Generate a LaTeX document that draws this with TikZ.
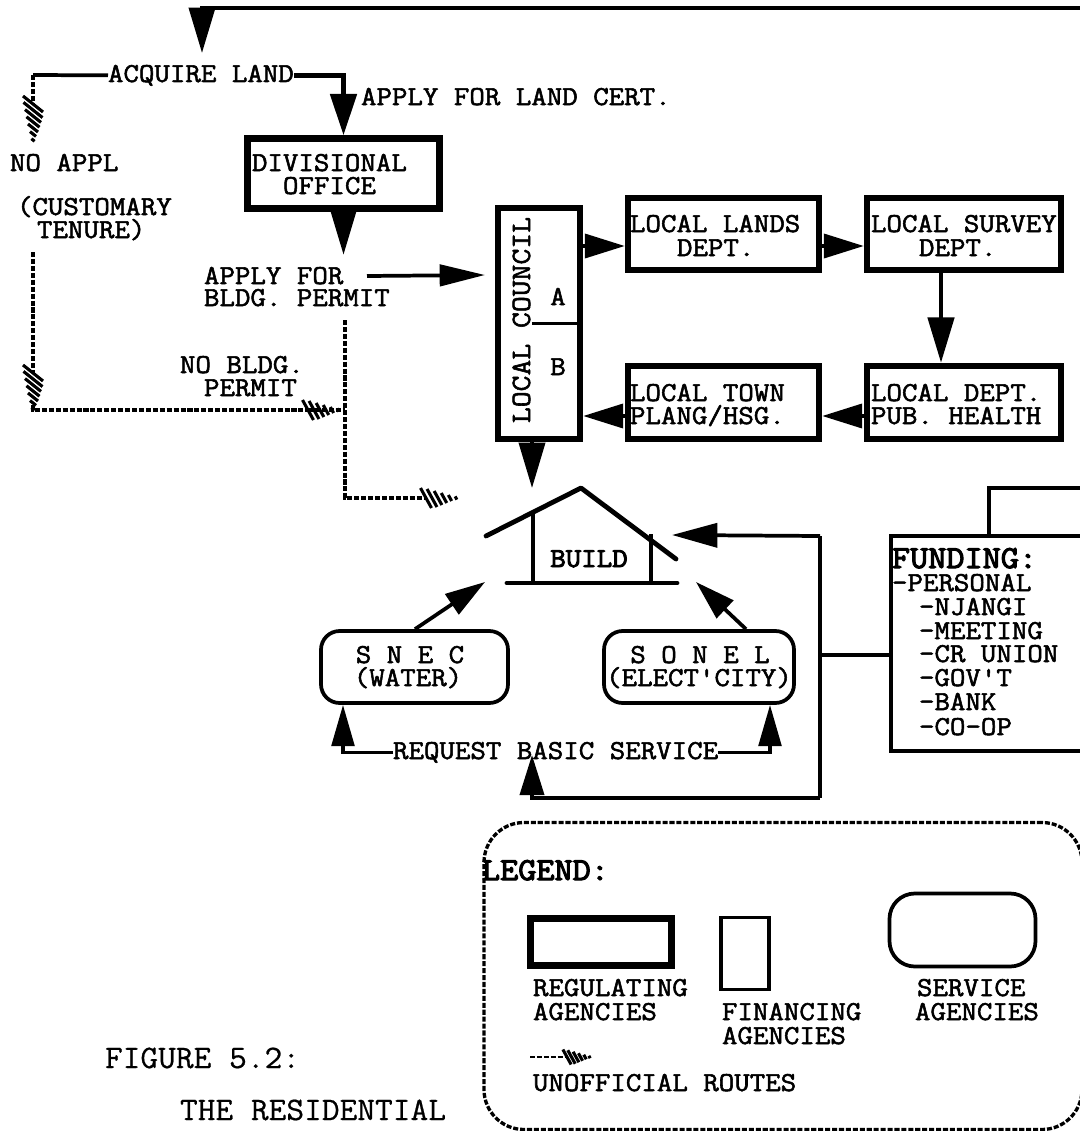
\documentclass[tikz,border=0pt]{standalone}
\usepackage{fontspec}
\usetikzlibrary{arrows.meta}
\newfontfamily\ftxt{Latin Modern Mono}[FakeBold=2,FakeStretch=1.1]
\newfontfamily\fbig{Latin Modern Mono}[FakeBold=3.5,FakeStretch=1.1]
\newfontfamily\fcap{Latin Modern Mono}[FakeBold=.6,FakeStretch=1.05]
\tikzset{
  x=0.75pt,y=-0.75pt,
  txt/.style={anchor=base west,inner sep=0pt,outer sep=0pt,font=\ftxt\fontsize{20.5}{22}\selectfont},
  txtc/.style={txt,anchor=base},
  bigtxt/.style={txt,font=\fbig\fontsize{24}{25}\selectfont},
  captxt/.style={txt,font=\fcap\fontsize{24.6}{26}\selectfont},
  sz/.style 2 args={minimum width=#1*0.75pt,minimum height=#2*0.75pt,inner sep=0pt},
  regbox/.style={draw,line width=4.8pt},
  finbox/.style={draw,line width=2.8pt},
  svcbox/.style={draw,line width=2.8pt,rounded corners=14pt},
  conn/.style={line width=2.8pt},
  arrow/.style 2 args={-{Triangle[length=#1,width=#2]}},
  unoff/.style={line width=2.5pt,dash pattern=on 3.8pt off 1.4pt},
  hatchdown/.pic={\foreach \i/\h in {0/10,1/9.5,2/8,3/6.5,4/5,5/3,6/1.6}
     \draw[line width=2.3pt] ({-\h},{\i*6-\h*.8}) -- ({\h},{\i*6+\h*.8});},
  hatchright/.pic={\foreach \i/\h in {0/10,1/9,2/7,3/5,4/3,5/1.6}
     \draw[line width=2.3pt] ({\i*6-\h*.55},{-\h}) -- ({\i*6+\h*.55},{\h});},
}
\begin{document}
\begin{tikzpicture}
\clip (0,0) rectangle (1080,1131);
\fill[white] (0,0) rectangle (1080,1131);
% coordinates of bends
\coordinate (topR) at (1095,8);
\coordinate (topL) at (202,8);
\coordinate (acqTip) at (202,53);
\coordinate (acqL) at (33,75);
\coordinate (acqR) at (344,75);
\coordinate (h1) at (33,104);
\coordinate (d2top) at (33,252);
\coordinate (d2bot) at (33,410);
\coordinate (h2) at (33,373);
\coordinate (d3top) at (345,320);
\coordinate (d3bot) at (345,498);
\coordinate (h3) at (308,410);
\coordinate (h3e) at (345,410);
\coordinate (h4) at (426,498);
\coordinate (permTip) at (485,275);
\coordinate (permS) at (367,276);
\coordinate (buildTip) at (532,488);
\coordinate (snecTip) at (485,582);
\coordinate (sonelTip) at (696,582);
\coordinate (houseTip) at (672,535);
\coordinate (busT) at (820,536);
\coordinate (busM) at (820,655);
\coordinate (busB) at (820,798);
\coordinate (reqTip) at (532,755);
\coordinate (reqB) at (532,798);
\coordinate (fundUp) at (989,488);
\coordinate (fundR) at (1095,488);
\coordinate (reqL) at (343,751);
\coordinate (reqR) at (770,751);
\coordinate (arY) at (0,246);
\coordinate (arZ) at (0,416);
\coordinate (xSH) at (941,0);
\coordinate (xSn) at (415,0);
\coordinate (xSo) at (746,0);
\coordinate (xDa) at (532,0);
\coordinate (xDb) at (580,0);
% regulating boxes
\node[regbox,sz={192}{70}] (div) at (343.5,173.5) {};
\node[regbox,sz={82}{231}] (council) at (539,323.5) {};
\node[regbox,sz={191}{72}] (lands) at (723.5,234) {};
\node[regbox,sz={194}{72}] (survey) at (964,234) {};
\node[regbox,sz={191}{73}] (town) at (723.5,402.5) {};
\node[regbox,sz={194}{73}] (health) at (964,402.5) {};
% service boxes
\node[svcbox,sz={187}{72}] (snec) at (414.5,667) {};
\node[svcbox,sz={190}{72}] (sonel) at (699,667) {};
% funding box
\node[finbox,sz={209}{215}] (fund) at (995.5,643.5) {};
% legend
\node[draw,unoff,rounded corners=30pt,sz={598}{307}] (legend) at (783,976) {};
\node[regbox,sz={141}{47}] (lgreg) at (601,942) {};
\node[finbox,sz={48}{72}] (lgfin) at (745,953.5) {};
\node[svcbox,rounded corners=19pt,sz={146}{73}] (lgsvc) at (962.5,930) {};
% texts
\node[txt] (tacq) at (108,82) {ACQUIRE LAND};
\node[txt] (tcert) at (361,105) {APPLY FOR LAND CERT.};
\node[txt] (tdiv1) at (252,171) {DIVISIONAL};
\node[txt] (tdiv2) at (283,194) {OFFICE};
\node[txt] (tnoap) at (10,171) {NO APPL};
\node[txt] (tcus1) at (17,215) {(CUSTOMARY};
\node[txt] (tcus2) at (37,238) {TENURE)};
\node[txt] (tap1) at (204,284) {APPLY FOR};
\node[txt] (tap2) at (204,306) {BLDG. PERMIT};
\node[txt] (tnb1) at (180,373) {NO BLDG.};
\node[txt] (tnb2) at (204,396) {PERMIT};
\node[txtc,rotate=90,font=\ftxt\fontsize{21}{22}\selectfont] (tcouncil) at (530,320) {LOCAL COUNCIL};
\node[txtc] (ta) at (558,305) {A};
\node[txtc] (tb) at (558,375) {B};
\node[txt] (tl1) at (630,232) {LOCAL LANDS};
\node[txt] (tl2) at (677,256) {DEPT.};
\node[txt] (ts1) at (871,232) {LOCAL SURVEY};
\node[txt] (ts2) at (919,256) {DEPT.};
\node[txt] (tt1) at (630,401) {LOCAL TOWN};
\node[txt] (tt2) at (630,424) {PLANG/HSG.};
\node[txt] (th1) at (871,401) {LOCAL DEPT.};
\node[txt] (th2) at (871,424) {PUB. HEALTH};
\node[txtc,font=\fbig\fontsize{20.5}{22}\selectfont] (tbuild) at (589,567) {BUILD};
\node[txtc] (tsn1) at (410,663) {S N E C};
\node[txtc] (tsn2) at (408,686) {(WATER)};
\node[txtc] (tso1) at (700,663) {S O N E L};
\node[txtc] (tso2) at (699,686) {(ELECT'CITY)};
\node[txt] (treq) at (393,759) {REQUEST BASIC SERVICE};
\node[bigtxt] (tf0) at (892,568) {FUNDING:};
\node[txt] (tf1) at (892,591) {-PERSONAL};
\node[txt] (tf2) at (919,615) {-NJANGI};
\node[txt] (tf3) at (919,639) {-MEETING};
\node[txt] (tf4) at (919,662) {-CR UNION};
\node[txt] (tf5) at (919,686) {-GOV'T};
\node[txt] (tf6) at (919,710) {-BANK};
\node[txt] (tf7) at (919,735) {-CO-OP};
\node[bigtxt] (tleg) at (482,880) {LEGEND:};
\node[txt] (tr1) at (533,996) {REGULATING};
\node[txt] (tr2) at (533,1020) {AGENCIES};
\node[txt] (tfa1) at (722,1020) {FINANCING};
\node[txt] (tfa2) at (722,1044) {AGENCIES};
\node[txt] (tsa1) at (917,996) {SERVICE};
\node[txt] (tsa2) at (915,1020) {AGENCIES};
\node[txt] (tun) at (533,1091) {UNOFFICIAL ROUTES};
\node[captxt] (tfig) at (105,1068) {FIGURE 5.2:};
\node[captxt] (tres) at (180,1120) {THE RESIDENTIAL};
% solid connectors
\draw[conn,arrow={34pt}{19.5pt}] (topR) -- (topL) -- (acqTip);
\draw[conn] (tacq.west) -- (acqL);
\draw[line width=3.8pt,arrow={31pt}{19.5pt}] (tacq.east) -| (div.north);
\draw[conn,arrow={34pt}{19.5pt}] (div.south) -- ++(0,43);
\draw[conn,arrow={34pt}{16pt}] (permS) -- (permTip);
\draw[conn,arrow={30pt}{18pt}] (council.east |- arY) -- (lands.west |- arY);
\draw[conn,arrow={30pt}{18pt}] (lands.east |- arY) -- (survey.west |- arY);
\draw[line width=3.4pt,arrow={34pt}{19.5pt}] (survey.south -| xSH) -- (health.north -| xSH);
\draw[conn,arrow={30pt}{18pt}] (health.west |- arZ) -- (town.east |- arZ);
\draw[conn,arrow={30pt}{18pt}] (town.west |- arZ) -- (council.east |- arZ);
\draw[conn,arrow={34pt}{19.5pt}] (council.south -| buildTip) -- (buildTip);
\draw[conn,arrow={30pt}{18pt}] (snec.north -| xSn) -- (snecTip);
\draw[conn,arrow={30pt}{18pt}] (sonel.north -| xSo) -- (sonelTip);
\draw[conn,arrow={31pt}{17pt}] (treq.west) -| (snec.south -| reqL);
\draw[conn,arrow={31pt}{17pt}] (treq.east) -| (sonel.south -| reqR);
\draw[conn,arrow={34pt}{18pt}] (busT) -- (houseTip);
\draw[conn] (busT) -- (busB);
\draw[conn,arrow={30pt}{18pt}] (busB) -- (reqB) -- (reqTip);
\draw[conn] (busM) -- (fund.west |- busM);
\draw[conn] (fund.north -| fundUp) -- (fundUp) -- (fundR);
\draw[line width=2.2pt] (council.center -| xDa) -- (council.center -| xDb);
% house
\coordinate (eaveL) at (486,536);
\coordinate (apex) at (581,488);
\coordinate (eaveR) at (676,559);
\coordinate (floorL) at (507,583);
\coordinate (floorR) at (677,583);
\coordinate (wallL) at (533,512);
\coordinate (wallR) at (651,534);
\draw[line width=3.6pt,line cap=round,line join=round] (eaveL) -- (apex) -- (eaveR);
\draw[line width=3.6pt,line cap=round] (floorL) -- (floorR);
\draw[line width=2.4pt] (wallL) -- (wallL |- floorL);
\draw[line width=2.4pt] (wallR) -- (wallR |- floorR);
% unofficial routes
\draw[unoff] (acqL) -- (h1);
\pic at (h1) {hatchdown};
\draw[unoff] (d2top) -- (h2);
\pic at (h2) {hatchdown};
\draw[unoff] (33,405) -- (d2bot) -- (h3);
\pic at (h3) {hatchright};
\draw[unoff] (h3) -- (h3e);
\draw[unoff] (d3top) -- (d3bot) -- (h4);
\pic at (h4) {hatchright};
\coordinate (lgS) at (530,1057);
\coordinate (lgH) at (567,1057);
\draw[unoff,line width=1.8pt] (lgS) -- (lgH);
\pic[scale=.75] at (lgH) {hatchright};
\end{tikzpicture}
\end{document}
